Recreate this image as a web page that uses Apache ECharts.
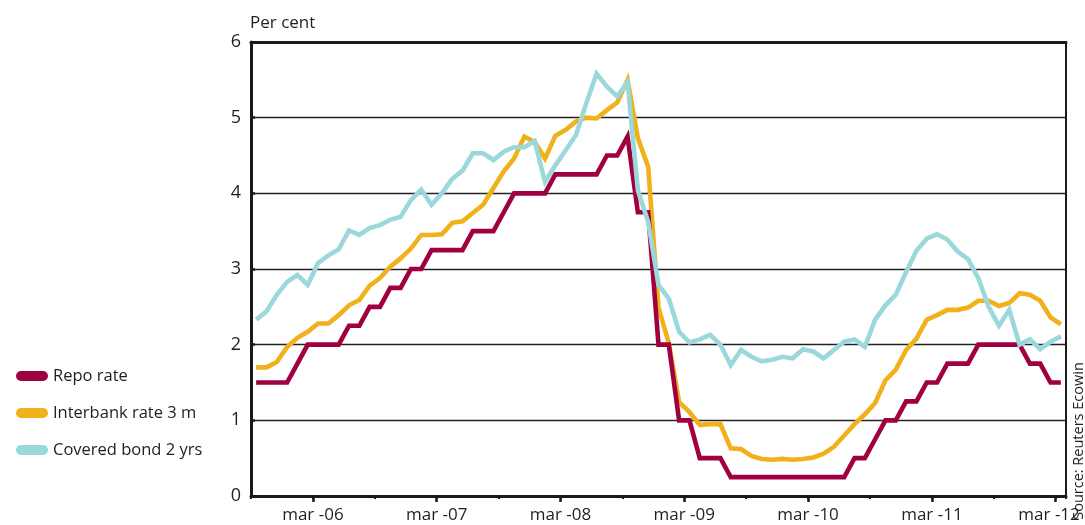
<!DOCTYPE html>
<html>
<head>
<meta charset="utf-8">
<script src="https://cdn.jsdelivr.net/npm/echarts@6/dist/echarts.min.js"></script>
<style>
  html, body { margin: 0; padding: 0; background: #ffffff; }
  #chart { width: 1085px; height: 525px; }
</style>
</head>
<body>
<div id="chart"></div>
<script>
// Monthly observations (end of month), Sep 2005 .. Mar 2012, per cent
const seriesNames = ['Repo rate', 'Interbank rate 3 m', 'Covered bond 2 yrs'];

const repoRate = [
  1.5, 1.5, 1.5, 1.5, 1.75, 2.0, 2.0, 2.0, 2.0, 2.25, 2.25, 2.5, 2.5, 2.75, 2.75, 3.0,
  3.0, 3.25, 3.25, 3.25, 3.25, 3.5, 3.5, 3.5, 3.75, 4.0, 4.0, 4.0, 4.0, 4.25, 4.25, 4.25,
  4.25, 4.25, 4.5, 4.5, 4.75, 3.75, 3.75, 2.0, 2.0, 1.0, 1.0, 0.5, 0.5, 0.5, 0.25, 0.25,
  0.25, 0.25, 0.25, 0.25, 0.25, 0.25, 0.25, 0.25, 0.25, 0.25, 0.5, 0.5, 0.75, 1.0, 1.0, 1.25,
  1.25, 1.5, 1.5, 1.75, 1.75, 1.75, 2.0, 2.0, 2.0, 2.0, 2.0, 1.75, 1.75, 1.5, 1.5
];

const interbank3m = [
  1.70, 1.70, 1.77, 1.97, 2.09, 2.17, 2.28, 2.28, 2.39, 2.52, 2.59, 2.78, 2.88, 3.03, 3.14, 3.27,
  3.45, 3.45, 3.46, 3.61, 3.63, 3.74, 3.85, 4.07, 4.29, 4.46, 4.75, 4.68, 4.46, 4.76, 4.84, 4.95,
  5.00, 4.99, 5.10, 5.20, 5.50, 4.73, 4.35, 2.49, 2.02, 1.24, 1.11, 0.94, 0.95, 0.95, 0.63, 0.62,
  0.53, 0.49, 0.48, 0.49, 0.48, 0.49, 0.51, 0.56, 0.65, 0.80, 0.95, 1.08, 1.23, 1.53, 1.67, 1.93,
  2.08, 2.33, 2.39, 2.46, 2.46, 2.49, 2.58, 2.58, 2.51, 2.55, 2.68, 2.66, 2.58, 2.36, 2.27
];

const coveredBond2y = [
  2.33, 2.44, 2.66, 2.83, 2.92, 2.79, 3.08, 3.18, 3.26, 3.51, 3.45, 3.54, 3.58, 3.65, 3.69, 3.91,
  4.05, 3.85, 4.00, 4.19, 4.30, 4.53, 4.53, 4.44, 4.55, 4.61, 4.61, 4.69, 4.15, 4.37, 4.57, 4.77,
  5.19, 5.58, 5.41, 5.28, 5.47, 4.04, 3.62, 2.79, 2.61, 2.17, 2.03, 2.07, 2.13, 2.00, 1.73, 1.93,
  1.84, 1.78, 1.80, 1.84, 1.82, 1.94, 1.91, 1.82, 1.93, 2.04, 2.07, 1.97, 2.33, 2.52, 2.66, 2.96,
  3.24, 3.40, 3.46, 3.39, 3.23, 3.13, 2.88, 2.50, 2.25, 2.46, 2.00, 2.07, 1.94, 2.04, 2.11
];

// x axis runs in months from 1 Sep 2005; March ticks every 12 months
const tickLabels = ['mar -06', 'mar -07', 'mar -08', 'mar -09', 'mar -10', 'mar -11', 'mar -12'];
const marchTicks = [6, 18, 30, 42, 54, 66, 78];
const xMax = 79;

const colors = ['#A0003F', '#F0B11A', '#9BD8DB'];
const FONT = '"Open Sans", "DejaVu Sans", sans-serif';
const INK = '#1f1f1f';

// each point sits in the middle of its month
const toPoints = vals => vals.map((v, i) => [i + 0.5, v]);

const chart = echarts.init(document.getElementById('chart'), null, { renderer: 'canvas' });

const lineSeries = (name, vals, color, z) => ({
  name: name,
  type: 'line',
  data: toPoints(vals),
  showSymbol: false,
  symbol: 'none',
  z: z,
  color: color,
  itemStyle: { color: color },
  lineStyle: { color: color, width: 4.6, join: 'miter' },
  emphasis: { disabled: true }
});

chart.setOption({
  animation: false,
  backgroundColor: '#ffffff',
  textStyle: { fontFamily: FONT, color: INK },
  title: {
    text: 'Per cent',
    left: 250,
    top: 15,
    padding: 0,
    textStyle: { fontFamily: FONT, fontSize: 17, fontWeight: 'normal', color: INK }
  },
  grid: { left: 251, right: 19, top: 42, bottom: 29, containLabel: false, outerBoundsMode: 'none' },
  legend: {
    orient: 'vertical',
    left: 11,
    top: 361,
    itemWidth: 32,
    itemHeight: 10,
    itemGap: 17,
    selectedMode: false,
    icon: 'path://M5 0H27A5 5 0 0 1 27 10H5A5 5 0 0 1 5 0Z',
    data: seriesNames,
    textStyle: { fontFamily: FONT, fontSize: 16.5, lineHeight: 20, color: INK }
  },
  xAxis: [
    {
      type: 'value',
      min: 0,
      max: xMax,
      interval: 6,
      position: 'bottom',
      axisLine: { show: true, onZero: false, lineStyle: { color: '#1a1a1a', width: 3 } },
      axisTick: { show: true, length: 3, lineStyle: { color: '#1a1a1a', width: 2 } },
      splitLine: { show: false },
      axisLabel: {
        customValues: marchTicks,
        margin: 11,
        fontFamily: FONT,
        fontSize: 17,
        color: INK,
        formatter: function (v) {
          const k = Math.round((v - 6) / 12);
          const txt = tickLabels[k] || '';
          // the last label is nudged left so it stays inside the frame
          return k === tickLabels.length - 1 ? txt + '\u00a0\u00a0\u00a0' : txt;
        }
      }
    },
    {
      type: 'value',
      min: 0,
      max: xMax,
      position: 'bottom',
      axisLine: { show: false },
      axisTick: { show: true, customValues: marchTicks, length: 6, lineStyle: { color: '#1a1a1a', width: 2.5 } },
      axisLabel: { show: false },
      splitLine: { show: false }
    },
    {
      type: 'value',
      min: 0,
      max: xMax,
      position: 'top',
      axisLine: { show: true, onZero: false, lineStyle: { color: '#1a1a1a', width: 3 } },
      axisTick: { show: false },
      axisLabel: { show: false },
      splitLine: { show: false }
    }
  ],
  yAxis: [
    {
      type: 'value',
      min: 0,
      max: 6,
      interval: 1,
      position: 'left',
      axisLine: { show: true, onZero: false, lineStyle: { color: '#1a1a1a', width: 3 } },
      axisTick: { show: true, inside: true, length: 4, lineStyle: { color: '#1a1a1a', width: 2.5 } },
      splitLine: { show: true, lineStyle: { color: '#222222', width: 1.4 } },
      axisLabel: { margin: 10, fontFamily: FONT, fontSize: 18, color: INK }
    },
    {
      type: 'value',
      min: 0,
      max: 6,
      interval: 1,
      position: 'right',
      axisLine: { show: true, onZero: false, lineStyle: { color: '#1a1a1a', width: 2 } },
      axisTick: { show: false },
      axisLabel: { show: false },
      splitLine: { show: false }
    }
  ],
  graphic: [
    {
      type: 'text',
      x: 1079,
      y: 441,
      rotation: Math.PI / 2,
      style: {
        text: 'Source: Reuters Ecowin',
        fontFamily: FONT,
        fontSize: 14.5,
        fill: INK,
        align: 'center',
        verticalAlign: 'middle'
      }
    }
  ],
  series: [
    lineSeries(seriesNames[1], interbank3m, colors[1], 2),
    lineSeries(seriesNames[0], repoRate, colors[0], 3),
    lineSeries(seriesNames[2], coveredBond2y, colors[2], 4)
  ]
});
</script>
</body>
</html>
